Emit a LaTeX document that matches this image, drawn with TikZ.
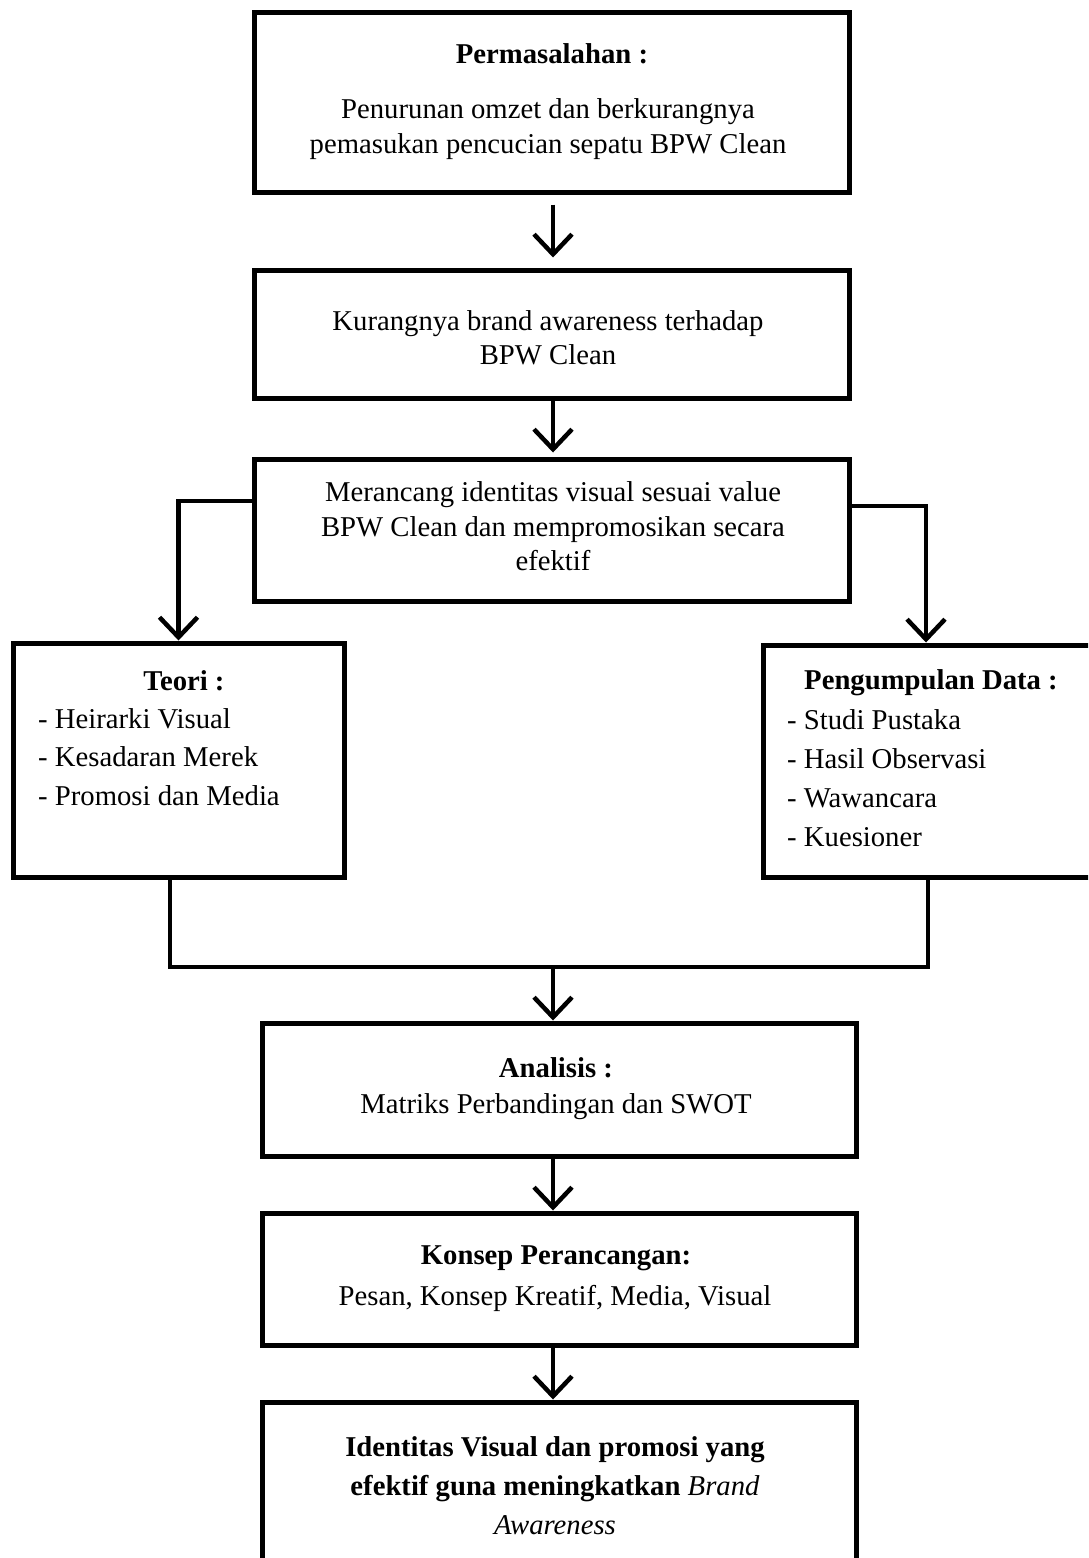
\documentclass[tikz,border=0pt]{standalone}
\usepackage{fontspec}
\setmainfont{Liberation Serif}
\usetikzlibrary{arrows.meta}
\begin{document}
\begin{tikzpicture}[x=1pt,y=1pt,
  box/.style={draw=black,line width=5pt,rectangle,inner sep=0pt},
  conn/.style={draw=black,line width=4.5pt},
  arr/.style={conn,-{Straight Barb[length=20pt,width=38pt]}},
  txt/.style={inner sep=0pt,align=center,font=\fontsize{28.7pt}{35pt}\selectfont},
  lst/.style={inner sep=0pt,align=left,anchor=west,font=\fontsize{28.7pt}{38.8pt}\selectfont}]
\useasboundingbox (0,0) rectangle (1088,-1558);
\clip (0,0) rectangle (1088,-1558);
\fill[white] (0,0) rectangle (1088,-1558);
% boxes
\node[box,minimum width=595,minimum height=180] (b1) at (551.5,-102) {};
\node[box,minimum width=595,minimum height=128] (b2) at (551.5,-334) {};
\node[box,minimum width=595,minimum height=142] (b3) at (551.5,-530) {};
\node[box,minimum width=331,minimum height=234] (teori) at (178.5,-760) {};
\node[box,minimum width=340,minimum height=232] (peng) at (933,-761) {};
\node[box,minimum width=594,minimum height=133] (anal) at (559,-1089.5) {};
\node[box,minimum width=594,minimum height=132] (konsep) at (559,-1279) {};
\node[box,minimum width=594,minimum height=198] (final) at (559,-1501) {};
% texts
\node[txt] (t1a) at (552,-54) {\textbf{Permasalahan :}};
\node[txt] (t1b) at (548,-129) {Penurunan omzet dan berkurangnya\\pemasukan pencucian sepatu BPW Clean};
\node[txt,font=\fontsize{28.7pt}{34pt}\selectfont] (t2) at (548,-337.5) {Kurangnya brand awareness terhadap\\BPW Clean};
\node[txt,font=\fontsize{28.7pt}{34.5pt}\selectfont] (t3) at (553,-526.5) {Merancang identitas visual sesuai value\\BPW Clean dan mempromosikan secara\\efektif};
\node[txt] (tta) at (184,-681) {\textbf{Teori :}};
\node[lst] (ttb) at (38,-757) {- Heirarki Visual\\- Kesadaran Merek\\- Promosi dan Media};
\node[txt] (tpa) at (931,-683) {\textbf{Pengumpulan Data :}};
\node[lst] (tpb) at (787,-778) {- Studi Pustaka\\- Hasil Observasi\\- Wawancara\\- Kuesioner};
\node[txt] (taa) at (556,-1068) {\textbf{Analisis :}};
\node[txt] (tab) at (556,-1107) {Matriks Perbandingan dan SWOT};
\node[txt] (tka) at (556,-1258) {\textbf{Konsep Perancangan:}};
\node[txt] (tkb) at (555,-1298) {Pesan, Konsep Kreatif, Media, Visual};
\node[txt,font=\fontsize{28.7pt}{39pt}\selectfont] (tf) at (555,-1486) {\textbf{Identitas Visual dan promosi yang}\\\textbf{efektif guna meningkatkan} \textit{Brand}\\\textit{Awareness}};
% coordinates
\coordinate (ax) at (553,0);
\coordinate (xr) at (926,0);
\coordinate (yl) at (0,-501);
\coordinate (yr) at (0,-506);
\coordinate (jl) at (170,-967);
\coordinate (jr) at (928,-967);
\coordinate (j) at (553,-967);
% connectors
\draw[arr,shorten <=10pt,shorten >=10pt] (b1.south -| ax) -- (b2.north -| ax);
\draw[arr,shorten >=4pt] (b2.south -| ax) -- (b3.north -| ax);
\draw[arr] (b3.west |- yl) -| (teori.north);
\draw[arr] (b3.east |- yr) -| (peng.north -| xr);
\draw[conn] (jl |- teori.south) -- (jl) -- (jr) -- (jr |- peng.south);
\draw[arr] (j) -- (anal.north -| j);
\draw[arr] (anal.south -| ax) -- (konsep.north -| ax);
\draw[arr] (konsep.south -| ax) -- (final.north -| ax);
\end{tikzpicture}
\end{document}
